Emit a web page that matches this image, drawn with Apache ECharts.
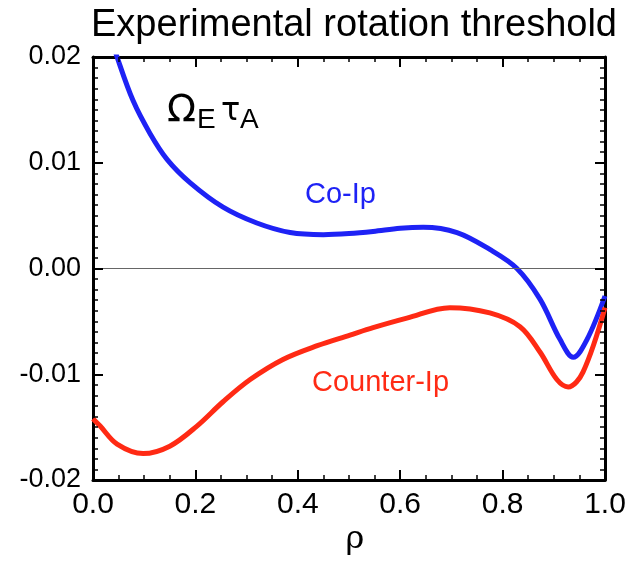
<!DOCTYPE html>
<html><head><meta charset="utf-8">
<script src="https://cdn.jsdelivr.net/npm/echarts@6/dist/echarts.min.js"></script>
<style>html,body{margin:0;padding:0;background:#fff}#c{width:632px;height:564px}</style>
</head><body><div id="c"></div>
<script>
var titleText = 'Experimental rotation threshold';
var xTicks = ['0.0','0.2','0.4','0.6','0.8','1.0'];
var yTicks = ['-0.02','-0.01','0.00','0.01','0.02'];
var xMajorTicks = [0.2, 0.4, 0.6, 0.8];
var xMinorTicks = [0.05, 0.1, 0.15, 0.25, 0.3, 0.35, 0.45, 0.5, 0.55, 0.65, 0.7, 0.75, 0.85, 0.9, 0.95];
var yMajorTicks = [-0.01, 0, 0.01];
var yMinorTicks = [-0.019, -0.018, -0.017, -0.016, -0.015, -0.014, -0.013, -0.012, -0.011,
                   -0.009, -0.008, -0.007, -0.006, -0.005, -0.004, -0.003, -0.002, -0.001,
                   0.001, 0.002, 0.003, 0.004, 0.005, 0.006, 0.007, 0.008, 0.009,
                   0.011, 0.012, 0.013, 0.014, 0.015, 0.016, 0.017, 0.018, 0.019];
var rhoCo = [0.04, 0.047, 0.078, 0.111, 0.145, 0.19, 0.254, 0.32, 0.385, 0.45, 0.50, 0.547, 0.60, 0.645, 0.711, 0.775, 0.828, 0.873, 0.912, 0.938, 0.965, 1.0];
var coIp = [0.0212, 0.0200, 0.0159, 0.0128, 0.0103, 0.0081, 0.0058, 0.0043, 0.0034, 0.0032, 0.0033, 0.0035, 0.0038, 0.0039, 0.0034, 0.0018, 0.0, -0.0029, -0.0067, -0.0084, -0.0067, -0.0026];
var rhoCounter = [0, 0.014, 0.047, 0.098, 0.15, 0.203, 0.254, 0.307, 0.371, 0.438, 0.502, 0.547, 0.613, 0.697, 0.775, 0.834, 0.873, 0.906, 0.928, 0.957, 1.0];
var counterIp = [-0.0142, -0.0149, -0.0166, -0.0175, -0.0168, -0.0149, -0.0126, -0.0105, -0.0086, -0.0073, -0.0063, -0.0056, -0.0047, -0.0037, -0.0042, -0.0055, -0.0079, -0.0105, -0.0112, -0.0098, -0.0037];

function pairs(xs, ys){ return xs.map(function(x,i){return [x, ys[i]];}); }
var FONT = 'Liberation Sans, Arial, sans-serif';
var BLUE = '#1e22f5', RED = '#ff2a14';
var X0 = 0, X1 = 1, Y0 = -0.02, Y1 = 0.02;
var GRID = {left:93, right:27, top:57, bottom:84};
var PLOT_W = 632 - GRID.left - GRID.right, PLOT_H = 564 - GRID.top - GRID.bottom;
var MAJOR = 10, MINOR = 5;

function seg(a, b, w){ return [{coord:a, lineStyle:{color:'#000', width:w, type:'solid'}}, {coord:b}]; }
function xTickSegs(vals, len, w){
  var dy = len / PLOT_H * (Y1 - Y0), out = [];
  vals.forEach(function(v){
    out.push(seg([v, Y0], [v, Y0 + dy], w));
    out.push(seg([v, Y1], [v, Y1 - dy], w));
  });
  return out;
}
function yTickSegs(vals, len, w){
  var dx = len / PLOT_W * (X1 - X0), out = [];
  vals.forEach(function(v){
    out.push(seg([X0, v], [X0 + dx, v], w));
    out.push(seg([X1, v], [X1 - dx, v], w));
  });
  return out;
}
var tickSegs = [].concat(
  xTickSegs(xMajorTicks, MAJOR, 2), xTickSegs(xMinorTicks, MINOR, 1.5),
  yTickSegs(yMajorTicks, MAJOR, 2), yTickSegs(yMinorTicks, MINOR, 1.5));

var axisLine = {show:true, onZero:false, lineStyle:{color:'#000', width:3}};

var chart = echarts.init(document.getElementById('c'));
chart.setOption({
  animation:false,
  title:{text:titleText, left:349, top:2, textAlign:'center',
    textStyle:{fontFamily:FONT, fontSize:38, fontWeight:'normal', color:'#000'}},
  grid:GRID,
  xAxis:[{type:'value', min:X0, max:X1, interval:0.2, position:'bottom',
      axisLine:axisLine, axisTick:{show:false}, splitLine:{show:false},
      axisLabel:{fontFamily:FONT, fontSize:30, color:'#000', margin:10,
        formatter:function(v){var s=v.toFixed(1); return xTicks.indexOf(s)>=0?s:'';}}},
    {type:'value', min:X0, max:X1, interval:0.2, position:'top',
      axisLine:axisLine, axisTick:{show:false}, splitLine:{show:false}, axisLabel:{show:false}}],
  yAxis:[{type:'value', min:Y0, max:Y1, interval:0.01, position:'left',
      axisLine:axisLine, axisTick:{show:false}, splitLine:{show:false},
      axisLabel:{fontFamily:FONT, fontSize:27, color:'#000', margin:12,
        formatter:function(v){var s=(Math.abs(v)<1e-9?0:v).toFixed(2); return yTicks.indexOf(s)>=0?s:'';}}},
    {type:'value', min:Y0, max:Y1, interval:0.01, position:'right',
      axisLine:axisLine, axisTick:{show:false}, splitLine:{show:false}, axisLabel:{show:false}}],
  series:[{
    type:'line', name:'Co-Ip', xAxisIndex:0, yAxisIndex:0, data:pairs(rhoCo, coIp), smooth:0.35,
    showSymbol:false, clip:true, lineStyle:{color:BLUE, width:5}, z:3,
    markLine:{silent:true, symbol:'none', label:{show:false}, animation:false,
      lineStyle:{color:'#666', width:1, type:'solid'}, data:[{yAxis:0}]}
  },{
    type:'line', name:'Counter-Ip', xAxisIndex:0, yAxisIndex:0, data:pairs(rhoCounter, counterIp), smooth:0.35,
    showSymbol:false, clip:false, lineStyle:{color:RED, width:5}, z:3,
    markLine:{silent:true, symbol:'none', label:{show:false}, animation:false,
      lineStyle:{color:'#000', width:2, type:'solid'}, data:tickSegs}
  }],
  graphic:[
    {type:'text', left:167, top:92, style:{text:'Ω', fontFamily:'DejaVu Sans', fontSize:38, fill:'#000'}},
    {type:'text', left:197, top:106, style:{text:'E', fontFamily:FONT, fontSize:28, fill:'#000'}},
    {type:'text', left:221, top:96, style:{text:'τ', fontFamily:'DejaVu Sans', fontSize:32, fill:'#000'}},
    {type:'text', left:240, top:106, style:{text:'A', fontFamily:FONT, fontSize:28, fill:'#000'}},
    {type:'text', left:305, top:180, style:{text:'Co-Ip', fontFamily:FONT, fontSize:29, fill:BLUE}},
    {type:'text', left:312, top:368, style:{text:'Counter-Ip', fontFamily:FONT, fontSize:29, fill:RED}},
    {type:'text', x:355, y:524, style:{text:'ρ', fontFamily:'DejaVu Serif', fontSize:32, fill:'#000', align:'center'}}
  ]
});
</script></body></html>
